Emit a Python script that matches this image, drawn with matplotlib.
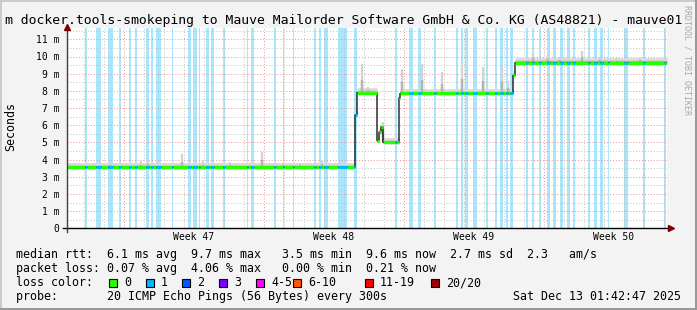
import numpy as np
import matplotlib.pyplot as plt
import matplotlib.patches as mpatches

W, H = 697, 310
X0, Y0, PW, PH = 67, 228.3, 600, 200   # plot box in pixels
PX_PER_MS = 17.18
MONO = 'DejaVu Sans Mono'

title = "m docker.tools-smokeping to Mauve Mailorder Software GmbH & Co. KG (AS48821) - mauve01"

# median rtt as steps: start of step (days from left edge) and value (ms)
med_t = [0.0, 14.40, 14.48, 15.50, 15.60, 15.70, 15.80, 16.58, 16.65, 22.30, 22.36]
med_v = [3.55, 6.6, 7.9, 5.1, 5.6, 5.9, 5.0, 7.6, 7.85, 8.9, 9.65]

# smoke spikes: time (days) and top (ms)
spike_t = [2.15, 3.70, 4.05, 5.75, 6.80, 8.15, 9.75, 10.80, 11.65, 12.75,
           14.75, 15.05, 15.80, 16.75, 17.75, 18.75, 19.75, 20.80, 21.75, 22.05,
           23.30, 24.05, 24.65, 25.75, 26.65, 27.50, 28.65]
spike_top = [3.8, 3.9, 4.0, 4.3, 3.9, 3.85, 4.45, 3.8, 3.8, 3.95,
             9.55, 8.2, 6.2, 9.3, 9.55, 9.1, 9.7, 9.4, 9.45, 8.6,
             10.2, 10.1, 10.0, 10.3, 9.95, 9.9, 10.0]

# periods with 1/20 packet loss (days)
loss_start = [0.90, 1.45, 2.05, 2.60, 3.10, 3.40, 3.95, 4.20, 4.45, 5.25, 6.05, 6.30, 6.60,
              6.95, 7.20, 7.80, 9.00, 9.20, 10.35, 10.80, 11.30, 12.35, 12.60, 12.85, 13.55,
              14.35, 16.40, 17.10, 17.55, 18.35, 19.45, 19.70, 19.90, 20.30, 20.95, 21.40,
              21.65, 21.95, 22.15, 22.95, 23.25, 23.60, 24.00, 24.30, 24.65, 25.00, 25.30,
              26.05, 26.35, 26.65, 27.05, 27.85, 28.80, 29.85]
loss_end = [1.00, 1.70, 2.30, 2.70, 3.20, 3.50, 4.10, 4.30, 4.70, 5.30, 6.20, 6.50, 6.65,
            7.10, 7.35, 7.90, 9.05, 9.35, 10.45, 10.85, 11.35, 12.45, 12.70, 13.05, 14.00,
            14.50, 16.50, 17.30, 17.70, 18.45, 19.55, 19.80, 20.05, 20.50, 21.05, 21.50,
            21.80, 22.05, 22.30, 23.05, 23.35, 23.70, 24.15, 24.45, 24.80, 25.15, 25.40,
            26.15, 26.50, 26.80, 27.10, 28.05, 28.90, 29.95]

week_pos = [6.35, 13.35, 20.35, 27.35]
week_labels = ['Week 47', 'Week 48', 'Week 49', 'Week 50']

loss_colors = ['#26ff00', '#00b8ff', '#0059ff', '#7e00ff', '#ff00ff', '#ff5500', '#ff0000', '#a10000']
loss_labels = ['0', '1', '2', '3', '4-5', '6-10', '11-19', '20/20']
box_x = [109, 146, 182, 219, 256, 293, 365, 431]

legend_lines = [
    "median rtt:  6.1 ms avg  9.7 ms max   3.5 ms min  9.6 ms now  2.7 ms sd  2.3   am/s",
    "packet loss: 0.07 % avg  4.06 % max   0.00 % min  0.21 % now",
    "loss color:",
    "probe:       20 ICMP Echo Pings (56 Bytes) every 300s",
]
stamp = "Sat Dec 13 01:42:47 2025"


def px(x, y):
    return x / W, 1 - y / H


fig = plt.figure(figsize=(W / 100, H / 100), dpi=100, facecolor='#f3f3f3')
ax = fig.add_axes([X0 / W, 1 - Y0 / H, PW / W, PH / H])
ymax = PH / PX_PER_MS
ax.set_xlim(0, 30)
ax.set_ylim(0, ymax)
ax.set_facecolor('white')
for s in ax.spines.values():
    s.set_visible(False)

# loss bars
for a, b in zip(loss_start, loss_end):
    ax.axvspan(a, b, color='#aae6fb', lw=0, zorder=1)

# grid
for y in np.arange(0.5, ymax, 0.5):
    major = abs(y - round(y)) < 1e-6
    ax.axhline(y, color='#e89090' if major else '#c0c0c0', lw=0.7, ls=(0, (1, 2)), zorder=1.5)
for k in range(30):
    x = 0.85 + k
    major = (k - 2) % 7 == 0
    ax.axvline(x, color='#e89090' if major else '#c0c0c0', lw=0.7, ls=(0, (1, 2)), zorder=1.5)

# median evaluated per pixel
tg = np.arange(PW) / 20.0
idx = np.searchsorted(med_t, tg, side='right') - 1
vg = np.array(med_v)[idx]

# smoke
tt = np.append(tg, 30)
ax.fill_between(tt, np.append(vg - 0.1, vg[-1] - 0.1), np.append(vg + 0.28, vg[-1] + 0.28),
                step='post', color='#dadada', lw=0, zorder=2)
ax.fill_between(tt, np.append(vg - 0.05, vg[-1] - 0.05), np.append(vg + 0.14, vg[-1] + 0.14),
                step='post', color='#c6c6c6', lw=0, zorder=2)
sbase = np.array(med_v)[np.searchsorted(med_t, spike_t, side='right') - 1]
stop = np.array(spike_top)
ax.vlines(spike_t, sbase, stop, color='#d4d4d4', lw=1.7, zorder=2.1)
ax.vlines(spike_t, sbase, sbase + (stop - sbase) * 0.45, color='#b4b4b4', lw=1.7, zorder=2.2)

# median line: thin black plus loss-coloured segments (merged runs)
ax.step(tt, np.append(vg, vg[-1]), where='post', color='black', lw=0.9, zorder=4)
cols = []
for t in tg:
    lost = any(a <= t < b for a, b in zip(loss_start, loss_end))
    cols.append(loss_colors[1] if lost else loss_colors[0])
seg_y, seg_x0, seg_x1, seg_c = [], [], [], []
for i in range(PW):
    if seg_y and seg_y[-1] == vg[i] and seg_c[-1] == cols[i]:
        seg_x1[-1] = tt[i + 1]
    else:
        seg_y.append(vg[i]); seg_x0.append(tg[i]); seg_x1.append(tt[i + 1]); seg_c.append(cols[i])
ax.hlines(seg_y, seg_x0, seg_x1, colors=seg_c, lw=2.3, zorder=5)

# axes lines with arrows
ax.plot([-4 / PW, 1.006], [0, 0], transform=ax.transAxes, color='black', lw=1, clip_on=False, zorder=6)
ax.plot([1.006], [0], marker='>', ms=4, color='#7f0000', transform=ax.transAxes, clip_on=False, zorder=7)
ax.plot([0, 0], [-4 / PH, 1.005], transform=ax.transAxes, color='#404040', lw=1, clip_on=False, zorder=6)
ax.plot([0], [1.005], marker='^', ms=4, color='#7f0000', transform=ax.transAxes, clip_on=False, zorder=7)

# ticks
ax.set_yticks(range(12))
ax.set_yticklabels(['0'] + [f'{i} m' for i in range(1, 12)], family=MONO, fontsize=7)
ax.set_xticks(week_pos)
ax.set_xticklabels(week_labels, family=MONO, fontsize=7)
ax.tick_params(axis='y', length=0, pad=5.5)
ax.tick_params(axis='x', length=0, pad=2.5)

# texts
fig.text(*px(344, 24), title, ha='center', va='baseline', fontsize=9.42, family=MONO)
fig.text(*px(11, 126.5), 'Seconds', rotation=90, ha='center', va='center', fontsize=8.4, family=MONO)
fig.text(*px(687.5, 60), 'RRDTOOL / TOBI OETIKER', rotation=270, ha='center', va='center',
         fontsize=6.0, family=MONO, color='#a8a8a8')

base_y = [258.3, 272.2, 286.0, 299.8]
for line, y in zip(legend_lines, base_y):
    fig.text(*px(16, y), line, ha='left', va='baseline', fontsize=8.37, family=MONO)
fig.text(*px(681, base_y[3]), stamp, ha='right', va='baseline', fontsize=8.37, family=MONO)

for c, lab, bx in zip(loss_colors, loss_labels, box_x):
    fig.add_artist(mpatches.Rectangle(px(bx, 286.5), 8 / W, 8 / H, transform=fig.transFigure,
                                      fc=c, ec='black', lw=0.8))
    fig.text(*px(bx + 15, base_y[2]), lab, ha='left', va='baseline', fontsize=8.37, family=MONO)

# frame shading
fig.add_artist(mpatches.Rectangle((0, 1 - 2 / H), 1, 2 / H, transform=fig.transFigure, fc='#cbcbcb', lw=0))
fig.add_artist(mpatches.Rectangle((0, 0), 2 / W, 1, transform=fig.transFigure, fc='#cbcbcb', lw=0))
fig.add_artist(mpatches.Rectangle((0, 0), 1, 2 / H, transform=fig.transFigure, fc='#999999', lw=0))
fig.add_artist(mpatches.Rectangle((1 - 2 / W, 0), 2 / W, 1, transform=fig.transFigure, fc='#999999', lw=0))

fig.savefig('out.png', dpi=100, facecolor=fig.get_facecolor())
